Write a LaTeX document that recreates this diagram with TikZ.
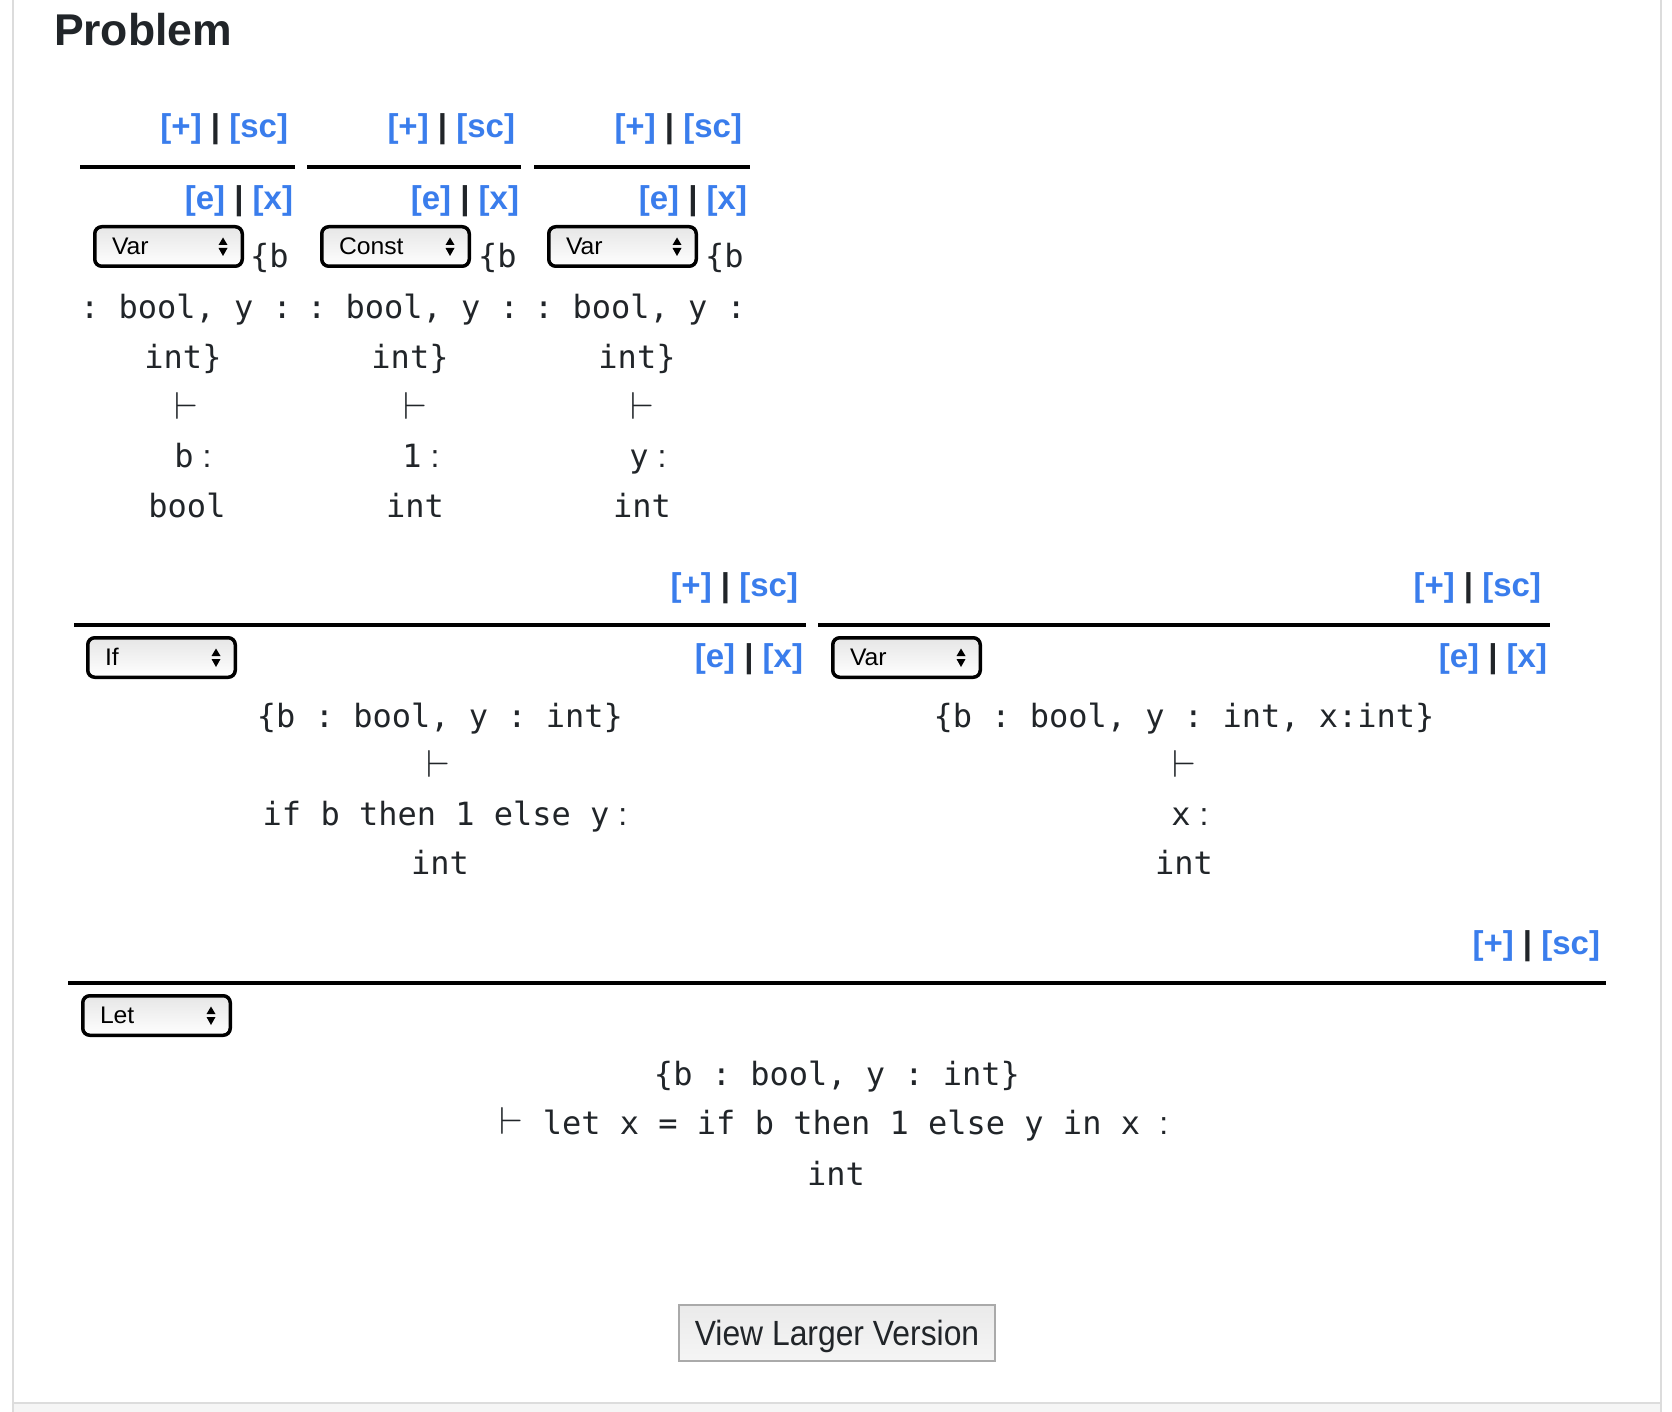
\documentclass[tikz,border=0pt]{standalone}
\usepackage{fontspec}
\usepackage{graphicx}
\setmainfont{Liberation Sans}
\newfontfamily\sansfont{Liberation Sans}
\newfontfamily\monofont{DejaVu Sans Mono}
\newfontfamily\btnfont[FakeStretch=0.91]{Liberation Sans}
\newfontfamily\selfont[FakeStretch=1.03]{Liberation Sans}

\definecolor{linkblue}{HTML}{3A7DEC}
\definecolor{ink}{HTML}{212529}
\definecolor{framecol}{HTML}{DCDCDC}
\definecolor{framebg}{HTML}{F5F5F5}
\definecolor{selgray}{HTML}{E6E6E6}
\definecolor{btnborder}{HTML}{AAAAAA}
\definecolor{btntop}{HTML}{EAEAEA}
\definecolor{btnbottom}{HTML}{F5F5F5}

% link groups shown around every rule
\newcommand\PlusSc{\textcolor{linkblue}{[+]} \textcolor{ink}{|} \textcolor{linkblue}{[sc]}}
\newcommand\EditDel{\textcolor{linkblue}{[e]} \textcolor{ink}{|} \textcolor{linkblue}{[x]}}
% turnstile, always built from the 10pt glyph
\newcommand\vd{{\fontsize{10}{12}\selectfont\scalebox{3.9}{$\vdash$}}}

\tikzset{
  every node/.style={inner sep=0pt, outer sep=0pt},
  title/.style={font=\fontsize{44.5}{44.5}\selectfont\bfseries, text=ink, anchor=base west},
  mono/.style={font=\fontsize{32}{32}\selectfont\monofont, text=ink, anchor=base},
  turn/.style={text=ink, anchor=base},
  linktext/.style={font=\fontsize{33}{33}\selectfont\bfseries, anchor=base east},
  rulebar/.style={line width=4.5pt, black},
  selbox/.style={draw=black, line width=3.5pt, rounded corners=7pt,
    top color=selgray, bottom color=white,
    minimum width=147.5pt, minimum height=39.5pt},
  seltext/.style={font=\fontsize{24}{24}\selectfont\selfont, text=black, anchor=base west},
  button/.style={draw=btnborder, line width=2pt, top color=btntop, bottom color=btnbottom,
    minimum width=316pt, minimum height=56pt},
  btntext/.style={font=\fontsize{35}{35}\selectfont\btnfont, text=ink, anchor=base},
}

% drop-down selector: name, left x, top y, label
\newcommand\SelectBox[4]{%
  \node[selbox] (#1) at ({#2+75.5},{#3+21.5}) {};
  \node[seltext] (#1-text) at ({#2+19},{#3+29.5}) {#4};
  \fill[black] ({#2+125.5},{#3+20}) -- ({#2+134.5},{#3+20}) -- ({#2+130},{#3+12.5}) -- cycle;
  \fill[black] ({#2+125.5},{#3+23}) -- ({#2+134.5},{#3+23}) -- ({#2+130},{#3+31}) -- cycle;
}

\begin{document}
\frenchspacing
\begin{tikzpicture}[x=1pt, y=-1pt]
\useasboundingbox (0,0) rectangle (1672,1412);

% page frame
\fill[framebg] (14,1404) rectangle (1660,1412);
\draw[framecol, line width=2pt] (13,0) -- (13,1412);
\draw[framecol, line width=2pt] (1661,0) -- (1661,1412);
\draw[framecol, line width=2pt] (13,1403) -- (1661,1403);

\node[title] (title) at (54,46) {Problem};

% ---- top row: three axioms ----
\draw[rulebar] (80,167) -- (295,167);
\draw[rulebar] (307,167) -- (521,167);
\draw[rulebar] (534,167) -- (750,167);

\node[linktext] (ps1) at (288,138) {\PlusSc};
\node[linktext] (ps2) at (515,138) {\PlusSc};
\node[linktext] (ps3) at (742,138) {\PlusSc};

\node[linktext] (ed1) at (293,210) {\EditDel};
\node[linktext] (ed2) at (519,210) {\EditDel};
\node[linktext] (ed3) at (747,210) {\EditDel};

\SelectBox{sel1}{93}{225}{Var}
\SelectBox{sel2}{320}{225}{Const}
\SelectBox{sel3}{547}{225}{Var}

\node[mono, anchor=base west] (c1a) at (250,268) {\{b};
\node[mono, anchor=base west] (c2a) at (478,268) {\{b};
\node[mono, anchor=base west] (c3a) at (705,268) {\{b};

\node[mono] (c1b) at (186,319) {: bool, y :};
\node[mono] (c2b) at (413,319) {: bool, y :};
\node[mono] (c3b) at (640,319) {: bool, y :};

\node[mono] (c1c) at (183,368) {int\}};
\node[mono] (c2c) at (410,368) {int\}};
\node[mono] (c3c) at (637,368) {int\}};

\node[turn] (v1) at (186,419) {\vd};
\node[turn] (v2) at (415,419) {\vd};
\node[turn] (v3) at (642,419) {\vd};

\node[mono] (e1) at (193,467) {b{\sansfont\ :}};
\node[mono] (e2) at (421,467) {1{\sansfont\ :}};
\node[mono] (e3) at (648,467) {y{\sansfont\ :}};

\node[mono] (t1) at (187,517) {bool};
\node[mono] (t2) at (415,517) {int};
\node[mono] (t3) at (642,517) {int};

% ---- middle row: If and Var ----
\draw[rulebar] (74,625) -- (806,625);
\draw[rulebar] (818,625) -- (1550,625);

\node[linktext] (ps4) at (798,596) {\PlusSc};
\node[linktext] (ps5) at (1541,596) {\PlusSc};

\SelectBox{sel4}{86}{636}{If}
\SelectBox{sel5}{831}{636}{Var}

\node[linktext] (ed4) at (803,667) {\EditDel};
\node[linktext] (ed5) at (1547,667) {\EditDel};

\node[mono] (c4) at (440,727) {\{b : bool, y : int\}};
\node[turn] (v4) at (438,777) {\vd};
\node[mono] (e4) at (445,825) {if b then 1 else y{\sansfont\ :}};
\node[mono] (t4) at (440,874) {int};

\node[mono] (c5) at (1184,727) {\{b : bool, y : int, x:int\}};
\node[turn] (v5) at (1184,777) {\vd};
\node[mono] (e5) at (1190,825) {x{\sansfont\ :}};
\node[mono] (t5) at (1184,874) {int};

% ---- bottom row: Let ----
\node[linktext] (ps6) at (1600,954) {\PlusSc};
\draw[rulebar] (68,983) -- (1606,983);
\SelectBox{sel6}{81}{994}{Let}

\node[mono] (c6) at (837,1085) {\{b : bool, y : int\}};
\node[mono] (e6) at (834,1134) {\vd\ let x = if b then 1 else y in x {\sansfont :}};
\node[mono] (t6) at (836,1185) {int};

% button
\node[button] (larger) at (837,1333) {};
\node[btntext] (larger-text) at (837,1345) {View Larger Version};
\end{tikzpicture}
\end{document}
